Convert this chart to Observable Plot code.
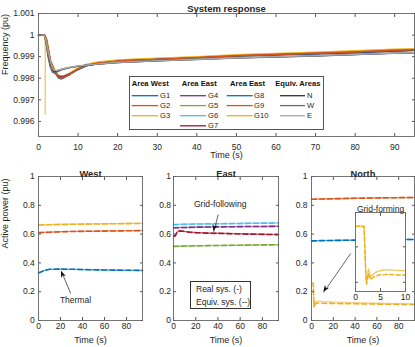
<!DOCTYPE html>
<html><head><meta charset="utf-8">
<script src="https://cdn.jsdelivr.net/npm/d3@7"></script>
<script src="https://cdn.jsdelivr.net/npm/@observablehq/plot@0.6"></script>
<style>
body{margin:0;background:#fff;}
#wrap{position:relative;width:415px;height:347px;overflow:hidden;font-family:"Liberation Sans",Arial,sans-serif;color:#262626;}
#wrap > *{position:absolute;}
.leg2{border:1px solid #333;background:#fff;font-size:8.5px;box-sizing:border-box;}
.leg2 div{position:absolute;left:5px;white-space:nowrap;line-height:1;}
</style></head><body><div id="wrap"></div>
<script>
// ---------- Data: frequency (top chart) ----------
const fTime = [0, 1.5, 2, 2.5, 3, 4, 5, 5.7, 6.5, 8, 10, 12, 15, 20, 25, 30, 40, 50, 60, 70, 80, 90, 95];
const fG1 = [1, 1, 0.9998, 0.9993, 0.9988, 0.99832, 0.99803, 0.99797, 0.99803, 0.99818, 0.9984, 0.99857, 0.99868, 0.99878, 0.99883, 0.99887, 0.99895, 0.99903, 0.99909, 0.99914, 0.9992, 0.99927, 0.9993];
const fG2 = [1, 1, 0.9998, 0.9993, 0.9988, 0.99835, 0.99808, 0.998, 0.99805, 0.9982, 0.99843, 0.9986, 0.9987, 0.9988, 0.99885, 0.99888, 0.99896, 0.99905, 0.99911, 0.99916, 0.99922, 0.9993, 0.99932];
const fG3 = [1, 1, 0.9998, 0.9993, 0.9988, 0.99837, 0.9981, 0.99803, 0.99808, 0.99823, 0.99846, 0.99862, 0.99873, 0.99882, 0.99887, 0.9989, 0.99898, 0.99907, 0.99913, 0.99918, 0.99925, 0.99932, 0.99934];
const fEast = [1, 1, 0.9997, 0.9991, 0.9986, 0.99828, 0.99812, 0.99808, 0.9981, 0.99822, 0.99842, 0.99858, 0.99868, 0.99878, 0.99883, 0.99886, 0.99894, 0.99902, 0.99908, 0.99913, 0.99919, 0.99926, 0.99929];
const fG10Time = [0, 1.5, 1.6, 1.7, 1.8, 2, 2.5, 3, 4, 5, 5.7, 6.5, 8, 10, 12, 15, 20, 25, 30, 40, 50, 60, 70, 80, 90, 95];
const fG10 = [1, 1, 0.99995, 0.9963, 0.9996, 0.9998, 0.9993, 0.9988, 0.99836, 0.9981, 0.99804, 0.99808, 0.99822, 0.99845, 0.99862, 0.99873, 0.99882, 0.99887, 0.9989, 0.99898, 0.99907, 0.99913, 0.99918, 0.99925, 0.99932, 0.99934];
const eqTime = [0, 1.5, 2, 2.5, 3, 3.5, 4, 5, 6, 8, 10, 15, 20, 30, 40, 50, 60, 70, 80, 90, 95];
const fN = [1, 1, 0.9996, 0.999, 0.9986, 0.99838, 0.9983, 0.99836, 0.99842, 0.9985, 0.99856, 0.99866, 0.99873, 0.99881, 0.99887, 0.99894, 0.99899, 0.99904, 0.9991, 0.99916, 0.99919];
const fW = [1, 1, 0.9995, 0.9989, 0.9985, 0.99828, 0.99823, 0.99832, 0.9984, 0.99849, 0.99855, 0.99865, 0.99872, 0.9988, 0.99886, 0.99893, 0.99898, 0.99903, 0.99909, 0.99915, 0.99918];
const fE = [1, 1, 0.9997, 0.9992, 0.9988, 0.99845, 0.99835, 0.99838, 0.99843, 0.99851, 0.99857, 0.99867, 0.99874, 0.99882, 0.99888, 0.99895, 0.999, 0.99905, 0.99911, 0.99917, 0.9992];
const fXTicks = [0, 10, 20, 30, 40, 50, 60, 70, 80, 90];
const fYTicks = [0.996, 0.997, 0.998, 0.999, 1, 1.001];

// ---------- Data: active power (bottom panels) ----------
const pTime = [0, 2, 5, 10, 20, 30, 40, 50, 60, 70, 80, 94.5];
const pG1 = [0.330, 0.334, 0.346, 0.355, 0.356, 0.355, 0.353, 0.352, 0.350, 0.349, 0.348, 0.347];
const pG1eq = [0.332, 0.336, 0.348, 0.356, 0.357, 0.356, 0.354, 0.352, 0.351, 0.350, 0.349, 0.348];
const pG2 = [0.611, 0.611, 0.612, 0.614, 0.617, 0.619, 0.620, 0.621, 0.622, 0.623, 0.624, 0.625];
const pG2eq = [0.609, 0.610, 0.611, 0.613, 0.616, 0.618, 0.619, 0.620, 0.621, 0.622, 0.623, 0.624];
const pG3 = [0.664, 0.664, 0.665, 0.666, 0.668, 0.669, 0.670, 0.671, 0.672, 0.673, 0.674, 0.675];
const pG3eq = [0.663, 0.663, 0.664, 0.665, 0.667, 0.668, 0.669, 0.670, 0.671, 0.672, 0.673, 0.674];
const pG4 = [0.644, 0.644, 0.645, 0.646, 0.648, 0.649, 0.650, 0.651, 0.652, 0.653, 0.653, 0.654];
const pG5 = [0.515, 0.515, 0.516, 0.517, 0.519, 0.520, 0.521, 0.522, 0.523, 0.524, 0.525, 0.526];
const pG6 = [0.666, 0.666, 0.667, 0.668, 0.670, 0.671, 0.672, 0.673, 0.674, 0.675, 0.676, 0.677];
const g7Time = [0, 1.5, 3, 5, 7, 10, 15, 20, 30, 40, 60, 80, 94.5];
const pG7 = [0.585, 0.585, 0.612, 0.625, 0.624, 0.619, 0.614, 0.611, 0.608, 0.606, 0.602, 0.599, 0.597];
const pG7eq = [0.588, 0.588, 0.610, 0.621, 0.621, 0.617, 0.613, 0.610, 0.607, 0.605, 0.601, 0.598, 0.596];
const pG8 = [0.553, 0.553, 0.554, 0.555, 0.556, 0.557, 0.558, 0.559, 0.560, 0.561, 0.562, 0.563];
const pG9 = [0.842, 0.842, 0.843, 0.844, 0.846, 0.847, 0.849, 0.850, 0.851, 0.852, 0.853, 0.854];
const g10Time = [0, 1.7, 2.0, 2.2, 2.6, 3.0, 3.5, 4, 5, 6, 7, 8, 10, 15, 20, 30, 40, 50, 60, 70, 80, 90, 94.5];
const pG10 = [0.258, 0.258, 0.15, 0.10, 0.138, 0.115, 0.122, 0.128, 0.133, 0.135, 0.135, 0.134, 0.132, 0.130, 0.128, 0.126, 0.124, 0.122, 0.120, 0.118, 0.117, 0.116, 0.115];
const pG10eq = [0.258, 0.258, 0.14, 0.095, 0.125, 0.108, 0.114, 0.118, 0.121, 0.122, 0.122, 0.121, 0.120, 0.119, 0.118, 0.117, 0.116, 0.115, 0.114, 0.113, 0.112, 0.111, 0.111];
const pXTicks = [0, 20, 40, 60, 80];
const pYTicks = [0, 0.2, 0.4, 0.6, 0.8, 1];
const insetXTicks = [0, 5, 10];
const insetYTicks = [0.1, 0.2];

const legendCols = [
  {title: "Area West", items: ["G1", "G2", "G3"]},
  {title: "Area East", items: ["G4", "G5", "G6", "G7"]},
  {title: "Area East", items: ["G8", "G9", "G10"]},
  {title: "Equiv. Areas", items: ["N", "W", "E"]}
];
const colors = {G1:"#0072BD", G2:"#D95319", G3:"#EDB120", G4:"#7E2F8E", G5:"#77AC30", G6:"#4DBEEE", G7:"#A2142F", G8:"#0072BD", G9:"#D95319", G10:"#EDB120", N:"#303030", W:"#6a6a6a", E:"#a8a8a8"};

// ---------- helpers ----------
const fmt = d3.format("~g");
const none = () => "";
const wrap = document.getElementById("wrap");
const baseStyle = {fontFamily: "'Liberation Sans', Arial, sans-serif", fontSize: "8.5px", color: "#262626", background: "transparent", overflow: "visible"};
const series = (t, v) => t.map((x, i) => ({t: x, v: v[i]}));
function place(el, left, top) { el.style.position = "absolute"; el.style.left = left + "px"; el.style.top = top + "px"; wrap.appendChild(el); }
function boxAxes(xt, yt, {xpad = 6, ypad = 7, showX = true, showY = true} = {}) {
  return [
    Plot.axisX({anchor: "bottom", ticks: xt, tickSize: -3, tickPadding: xpad, tickFormat: showX ? fmt : none, label: null, stroke: "#555"}),
    Plot.axisX({anchor: "top", ticks: xt, tickSize: -3, tickPadding: 0, tickFormat: none, label: null, stroke: "#555"}),
    Plot.axisY({anchor: "left", ticks: yt, tickSize: -3, tickPadding: ypad, tickFormat: showY ? fmt : none, label: null, stroke: "#555"}),
    Plot.axisY({anchor: "right", ticks: yt, tickSize: -3, tickPadding: 0, tickFormat: none, label: null, stroke: "#555"}),
    Plot.frame({stroke: "#666", strokeWidth: 0.9})
  ];
}
function arrowHead(plot, a) {
  const sx = plot.scale("x"), sy = plot.scale("y");
  const X1 = sx.apply(a.x1), Y1 = sy.apply(a.y1), X2 = sx.apply(a.x2), Y2 = sy.apply(a.y2);
  const ang = Math.atan2(Y2 - Y1, X2 - X1), c = Math.cos(ang), s = Math.sin(ang);
  const L = 6.5, W = 2.6, bx = X2 - L * c, by = Y2 - L * s, nx = X2 - 0.7 * L * c, ny = Y2 - 0.7 * L * s;
  d3.select(plot).append("polygon")
    .attr("points", [[X2, Y2], [bx - W * s, by + W * c], [nx, ny], [bx + W * s, by - W * c]].map(p => p.join(",")).join(" "))
    .attr("fill", "#111");
}
const arrowMark = a => Plot.arrow([a], {x1: "x1", y1: "y1", x2: "x2", y2: "y2", stroke: "#222", strokeWidth: 0.7, headLength: 0});

// ---------- Top chart ----------
const freqSeries = [
  {name: "G3", t: fTime, v: fG3, w: 2.4},
  {name: "G10", t: fG10Time, v: fG10, w: 1, o: 0.55},
  {name: "G1", t: fTime, v: fG1, w: 1.2},
  {name: "G4", t: fTime, v: fEast, w: 1.2},
  {name: "G5", t: fTime, v: fEast, w: 1.2},
  {name: "G6", t: fTime, v: fEast, w: 1.2},
  {name: "G7", t: fTime, v: fEast, w: 1.2},
  {name: "G8", t: fTime, v: fG1, w: 1.2},
  {name: "G9", t: fTime, v: fG2, w: 1.2},
  {name: "G2", t: fTime, v: fG2, w: 1.2},
  {name: "N", t: eqTime, v: fN, w: 1.3},
  {name: "W", t: eqTime, v: fW, w: 1.3},
  {name: "E", t: eqTime, v: fE, w: 1.3}
];
const topPlot = Plot.plot({
  width: 415, height: 165, marginTop: 13, marginBottom: 29, marginLeft: 38, marginRight: 1,
  x: {domain: [0, 95]}, y: {domain: [0.9953, 1.001]},
  style: baseStyle,
  marks: [
    ...freqSeries.map(s => Plot.line(series(s.t, s.v), {x: "t", y: "v", stroke: colors[s.name], strokeWidth: s.w, strokeOpacity: s.o ?? 1})),
    ...boxAxes(fXTicks, fYTicks, {xpad: 10, ypad: 7}),
    Plot.text(["System response"], {frameAnchor: "top", dy: -8, text: d => d, fontWeight: "bold", fontSize: 9.5}),
    Plot.text(["Time (s)"], {frameAnchor: "bottom", dy: 21.5, text: d => d, fontSize: 9}),
    Plot.text(["Frequency (pu)"], {frameAnchor: "left", dx: -33, rotate: -90, text: d => d, fontSize: 9})
  ]
});
place(topPlot, 0, 0);

// legend of top chart
const leg = d3.create("svg").attr("width", 195).attr("height", 54)
  .style("font-family", "'Liberation Sans', Arial, sans-serif").style("overflow", "visible");
leg.append("rect").attr("x", 0.5).attr("y", 0.5).attr("width", 194).attr("height", 53).attr("fill", "#fff").attr("stroke", "#444").attr("stroke-width", 0.9);
const colX = [{h: 2.7, l1: 2.7, l2: 29.3, t: 31}, {h: 52.7, l1: 51, l2: 77, t: 79}, {h: 101, l1: 97.7, l2: 123.7, t: 125}, {h: 146.3, l1: 151, l2: 176, t: 178}];
const rowY = [19.7, 29.6, 39.7, 49.8];
legendCols.forEach((col, ci) => {
  const g = colX[ci];
  leg.append("text").attr("x", g.h).attr("y", 7.5).attr("dy", "0.35em").attr("font-size", 7.6).attr("font-weight", "bold").attr("fill", "#111").text(col.title);
  col.items.forEach((it, ri) => {
    leg.append("line").attr("x1", g.l1).attr("x2", g.l2).attr("y1", rowY[ri]).attr("y2", rowY[ri]).attr("stroke", colors[it]).attr("stroke-width", 1.3);
    leg.append("text").attr("x", g.t).attr("y", rowY[ri]).attr("dy", "0.35em").attr("font-size", 7.6).attr("fill", "#262626").text(it);
  });
});
place(leg.node(), 129, 76);

// ---------- Bottom panels ----------
function powerPanel({left, width, ml, mr, title, lines, ypad, ylabel, marks = []}) {
  const p = Plot.plot({
    width, height: 187, marginTop: 16, marginBottom: 27, marginLeft: ml, marginRight: mr,
    x: {domain: [0, 94.5]}, y: {domain: [0, 1]},
    style: baseStyle,
    marks: [
      ...lines.flatMap(s => [
        Plot.line(series(s.t, s.real), {x: "t", y: "v", stroke: colors[s.name], strokeWidth: 1.4, strokeOpacity: 0.55}),
        Plot.line(series(s.t, s.eq), {x: "t", y: "v", stroke: colors[s.name], strokeWidth: 1.6, strokeDasharray: "5,3"})
      ]),
      ...boxAxes(pXTicks, pYTicks, {xpad: 5.8, ypad}),
      Plot.text([title], {frameAnchor: "top", dy: -6, text: d => d, fontWeight: "bold", fontSize: 9.3}),
      Plot.text(["Time (s)"], {frameAnchor: "bottom", dy: 22, text: d => d, fontSize: 9}),
      ...(ylabel ? [Plot.text([ylabel], {frameAnchor: "left", dx: -33, rotate: -90, text: d => d, fontSize: 9})] : []),
      ...marks
    ]
  });
  place(p, left, 160);
  return p;
}

const thermal = {x1: 29.1, y1: 0.19, x2: 20.9, y2: 0.34};
const west = powerPanel({
  left: 0, width: 145, ml: 38, mr: 3, title: "West", ypad: 6.7, ylabel: "Active power (pu)",
  lines: [
    {name: "G3", t: pTime, real: pG3, eq: pG3eq},
    {name: "G2", t: pTime, real: pG2, eq: pG2eq},
    {name: "G1", t: pTime, real: pG1, eq: pG1eq}
  ],
  marks: [arrowMark(thermal), Plot.text(["Thermal"], {x: 33.6, y: 0.139, text: d => d, fontSize: 8.5})]
});
arrowHead(west, thermal);

const gridFollow = {x1: 40.2, y1: 0.734, x2: 36.3, y2: 0.618};
const east = powerPanel({
  left: 143, width: 137, ml: 30, mr: 2, title: "East", ypad: 5.5,
  lines: [
    {name: "G5", t: pTime, real: pG5, eq: pG5},
    {name: "G4", t: pTime, real: pG4, eq: pG4},
    {name: "G6", t: pTime, real: pG6, eq: pG6},
    {name: "G7", t: g7Time, real: pG7, eq: pG7eq}
  ],
  marks: [arrowMark(gridFollow), Plot.text(["Grid-following"], {x: 42, y: 0.81, text: d => d, fontSize: 8.6})]
});
arrowHead(east, gridFollow);

const legBox = document.createElement("div");
legBox.className = "leg2";
legBox.style.width = "61px"; legBox.style.height = "28px";
legBox.innerHTML = '<div style="top:3px">Real sys. (-)</div><div style="top:15.5px">Equiv. sys. (--)</div>';
place(legBox, 190, 281);

const gridForm = {x1: 35.8, y1: 0.463, x2: 11.3, y2: 0.197};
const north = powerPanel({
  left: 280, width: 135, ml: 31, mr: 1, title: "North", ypad: 7,
  lines: [
    {name: "G9", t: pTime, real: pG9, eq: pG9},
    {name: "G8", t: pTime, real: pG8, eq: pG8},
    {name: "G10", t: g10Time, real: pG10, eq: pG10eq}
  ],
  marks: [arrowMark(gridForm)]
});
arrowHead(north, gridForm);

// inset
const inT = g10Time.filter(t => t <= 10);
const inset = Plot.plot({
  width: 70, height: 110, marginTop: 14, marginBottom: 17, marginLeft: 15, marginRight: 5,
  x: {domain: [0, 10]}, y: {domain: [0.074, 0.297]},
  style: baseStyle,
  marks: [
    Plot.frame({fill: "#fff"}),
    Plot.line(series(inT, pG10), {x: "t", y: "v", stroke: colors.G10, strokeWidth: 1.1, strokeOpacity: 0.8, clip: true}),
    Plot.line(series(inT, pG10eq), {x: "t", y: "v", stroke: colors.G10, strokeWidth: 1.5, strokeDasharray: "4,2.5", clip: true}),
    ...boxAxes(insetXTicks, insetYTicks, {xpad: 5, showY: false}),
    Plot.text(["Grid-forming"], {frameAnchor: "top", dy: -7, text: d => d, fontSize: 8.5})
  ]
});
place(inset, 340, 198);
</script></body></html>
